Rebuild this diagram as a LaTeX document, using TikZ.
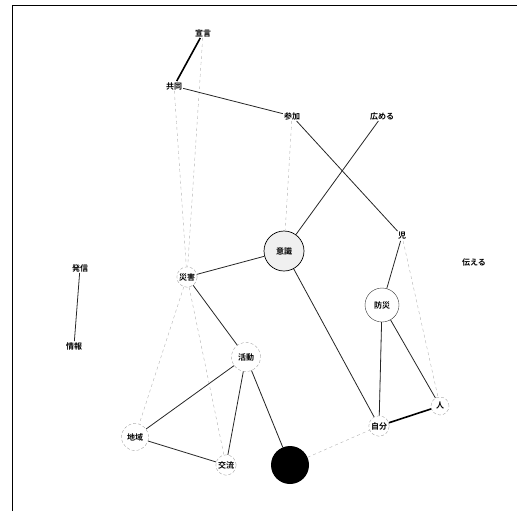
\documentclass[tikz,border=0pt]{standalone}
\usepackage{fontspec}
\newfontfamily\cjk{Noto Sans CJK JP}[BoldFont={Noto Sans CJK JP Bold}]
\begin{document}
\begin{tikzpicture}[x=1pt,y=-1pt,
  lbl/.style={font=\cjk\bfseries\fontsize{8}{9}\selectfont, inner sep=1pt},
  ring/.style={lbl, circle, draw=gray!70, densely dashed, line width=0.4pt, minimum size=#1},
  edge/.style={line width=0.8pt, black!85},
  thick edge/.style={line width=1.6pt, black},
  faint/.style={gray!60, dashed, line width=0.4pt}]
\useasboundingbox (0,0) rectangle (518,511);
\draw[line width=1pt] (12,511) -- (12,6) -- (517,6);
% nodes
\node[lbl] (sengen) at (203,33) {宣言};
\node[lbl] (kyodo) at (174,86) {共同};
\node[lbl] (sanka) at (292,116) {参加};
\node[lbl] (hiromeru) at (382,116) {広める};
\node[lbl] (ji) at (402,236) {児};
\node[ring=40pt, draw=black, solid, fill=gray!12, line width=0.7pt] (ishiki) at (284,251) {意識};
\node[ring=20pt] (saigai) at (187,277) {災害};
\node[lbl] (hasshin) at (80,268) {発信};
\node[lbl] (joho) at (74,346) {情報};
\node[lbl] (tsutaeru) at (474,262) {伝える};
\node[ring=34pt, draw=black!80, solid] (bosai) at (382,305) {防災};
\node[ring=29pt] (katsudo) at (246,357) {活動};
\node[ring=27pt] (chiiki) at (135,437) {地域};
\node[ring=18pt] (koryu) at (226,465) {交流};
\node[circle, fill=black, minimum size=38pt, inner sep=0pt] (blk) at (290,465) {};
\node[ring=20pt] (jibun) at (379,426) {自分};
\node[ring=18pt] (hito) at (440,406) {人};
% faint dashed links
\draw[faint] (sengen) -- (saigai);
\draw[faint] (kyodo) -- (saigai);
\draw[faint] (sanka) -- (ishiki);
\draw[faint] (saigai) -- (chiiki);
\draw[faint] (ji) -- (hito);
\draw[faint] (katsudo) -- (blk);
\draw[faint] (saigai) -- (koryu);
\draw[faint] (blk) -- (jibun);
\draw[faint] (bosai) -- (jibun);
% solid links
\draw[thick edge] (sengen) -- (kyodo);
\draw[edge] (kyodo) -- (sanka);
\draw[edge] (sanka) -- (ji);
\draw[edge] (hiromeru) -- (ishiki);
\draw[edge] (ishiki) -- (saigai);
\draw[edge] (ishiki) -- (jibun);
\draw[edge] (saigai) -- (katsudo);
\draw[edge] (katsudo) -- (chiiki);
\draw[edge] (katsudo) -- (koryu);
\draw[edge] (katsudo) -- (blk);
\draw[edge] (chiiki) -- (koryu);
\draw[edge] (ji) -- (bosai);
\draw[edge] (bosai) -- (jibun);
\draw[edge] (bosai) -- (hito);
\draw[thick edge] (jibun) -- (hito);
\draw[edge] (hasshin) -- (joho);
\end{tikzpicture}
\end{document}
